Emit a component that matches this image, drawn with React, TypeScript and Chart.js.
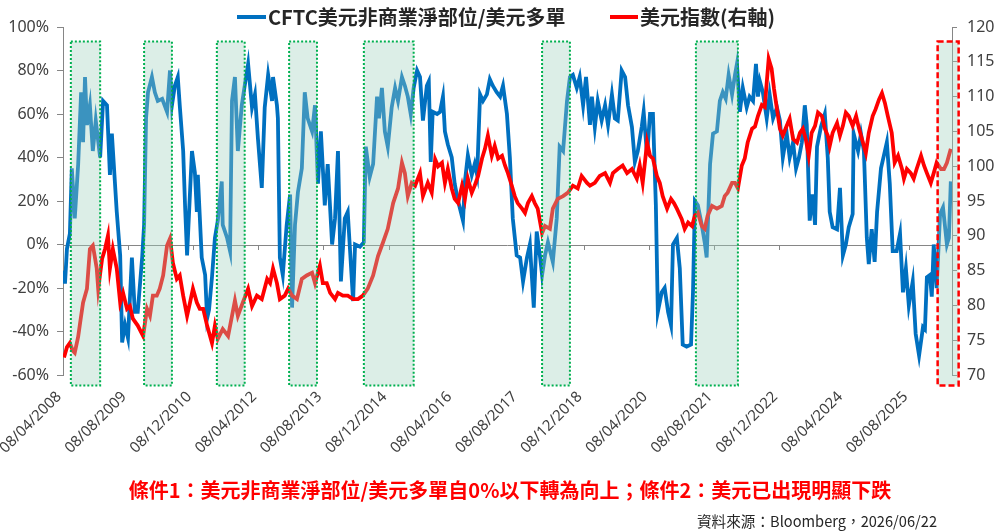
import React, { useEffect, useRef } from "react";
import { Chart, registerables } from "chart.js";

Chart.register(...registerables);

// ---------- data ----------
const xTickLabels = [
  "08/04/2008", "08/08/2009", "08/12/2010", "08/04/2012", "08/08/2013",
  "08/12/2014", "08/04/2016", "08/08/2017", "08/12/2018", "08/04/2020",
  "08/08/2021", "08/12/2022", "08/04/2024", "08/08/2025",
];
const lastDate = "22/06/2026";

const seriesNames = ["CFTC美元非商業淨部位/美元多單", "美元指數(右軸)"];

// [decimal year, % ]
const cftcPoints: [number, number][] = [
  [2008.29, -12], [2008.31, -18], [2008.35, -2], [2008.41, 5], [2008.45, 35], [2008.51, 12],
  [2008.58, 37], [2008.64, 70], [2008.68, 47], [2008.72, 77], [2008.76, 55], [2008.82, 64],
  [2008.88, 43], [2008.94, 57], [2009.03, 40], [2009.09, 66], [2009.17, 64], [2009.23, 32],
  [2009.27, 51], [2009.37, 15], [2009.44, -5], [2009.48, -45], [2009.54, -37], [2009.60, -43],
  [2009.68, -6], [2009.74, -31], [2009.80, -31], [2009.89, -6], [2009.93, 9], [2009.97, 58],
  [2010.01, 70], [2010.09, 77], [2010.15, 70], [2010.21, 66], [2010.30, 67], [2010.40, 61],
  [2010.46, 80], [2010.50, 64], [2010.56, 73], [2010.62, 77], [2010.66, 64], [2010.73, 43],
  [2010.77, 17], [2010.81, -5], [2010.87, 24], [2010.91, 43], [2010.97, 33], [2011.01, 15],
  [2011.03, 32], [2011.11, -6], [2011.18, -14], [2011.22, -34], [2011.26, -30], [2011.32, -15],
  [2011.38, 3], [2011.44, 11], [2011.52, 29], [2011.54, 9], [2011.63, 3], [2011.69, -3],
  [2011.73, 66], [2011.79, 77], [2011.85, 43], [2011.93, 64], [2011.99, 73], [2012.06, 83],
  [2012.14, 63], [2012.20, 69], [2012.26, 49], [2012.34, 26], [2012.40, 63], [2012.47, 78],
  [2012.55, 66], [2012.57, 77], [2012.65, 64], [2012.67, 58], [2012.71, -6], [2012.77, -14],
  [2012.85, 9], [2012.92, 23], [2012.96, -29], [2013.02, 9], [2013.08, 24], [2013.16, 35],
  [2013.22, 70], [2013.28, 58], [2013.37, 52], [2013.43, 64], [2013.49, 28], [2013.55, 52],
  [2013.63, 18], [2013.69, 37], [2013.78, 0], [2013.84, 12], [2013.90, 43], [2013.96, -17],
  [2014.04, 12], [2014.10, 15], [2014.14, 0], [2014.21, -26], [2014.25, 0], [2014.35, -1],
  [2014.43, 1], [2014.47, 45], [2014.55, 31], [2014.62, 37], [2014.70, 68], [2014.74, 58],
  [2014.80, 72], [2014.86, 52], [2014.92, 45], [2015.00, 63], [2015.07, 72], [2015.13, 66],
  [2015.21, 77], [2015.27, 73], [2015.33, 68], [2015.39, 60], [2015.45, 72], [2015.52, 80],
  [2015.58, 77], [2015.64, 57], [2015.72, 73], [2015.76, 75], [2015.80, 38], [2015.84, 61],
  [2015.93, 60], [2015.99, 61], [2016.05, 68], [2016.09, 52], [2016.15, 46], [2016.23, 40],
  [2016.29, 28], [2016.36, 20], [2016.46, 11], [2016.50, 29], [2016.56, 41], [2016.64, 32],
  [2016.70, 37], [2016.75, 32], [2016.81, 69], [2016.87, 66], [2016.95, 69], [2017.01, 76],
  [2017.07, 73], [2017.15, 70], [2017.22, 68], [2017.28, 73], [2017.36, 60], [2017.42, 40],
  [2017.48, 12], [2017.56, -5], [2017.63, -6], [2017.69, -17], [2017.77, -6], [2017.83, 0],
  [2017.91, -29], [2017.97, 6], [2018.04, -6], [2018.08, -14], [2018.14, -5], [2018.20, 1],
  [2018.30, -8], [2018.38, 12], [2018.44, 45], [2018.51, 43], [2018.59, 66], [2018.65, 77],
  [2018.71, 78], [2018.79, 72], [2018.85, 77], [2018.92, 64], [2018.98, 77], [2019.06, 55],
  [2019.10, 68], [2019.16, 54], [2019.22, 66], [2019.30, 57], [2019.37, 64], [2019.43, 55],
  [2019.51, 69], [2019.57, 58], [2019.63, 57], [2019.71, 80], [2019.78, 77], [2019.84, 64],
  [2019.92, 54], [2019.98, 38], [2020.04, 43], [2020.12, 54], [2020.16, 61], [2020.23, 41],
  [2020.29, 60], [2020.35, 60], [2020.41, 18], [2020.45, -31], [2020.53, -22], [2020.59, -20],
  [2020.66, -31], [2020.72, -37], [2020.76, 0], [2020.84, 3], [2020.90, -11], [2020.96, -46],
  [2021.04, -47], [2021.13, -46], [2021.17, -22], [2021.21, 20], [2021.27, 18], [2021.35, 9],
  [2021.41, 1], [2021.45, -6], [2021.52, 37], [2021.58, 51], [2021.66, 52], [2021.72, 66],
  [2021.78, 70], [2021.84, 67], [2021.90, 78], [2021.97, 69], [2022.03, 78], [2022.07, 83],
  [2022.13, 61], [2022.19, 72], [2022.27, 63], [2022.33, 68], [2022.40, 66], [2022.46, 83],
  [2022.50, 68], [2022.54, 75], [2022.60, 70], [2022.68, 58], [2022.74, 69], [2022.81, 58],
  [2022.89, 63], [2022.95, 57], [2023.01, 40], [2023.09, 51], [2023.15, 40], [2023.22, 47],
  [2023.28, 35], [2023.34, 40], [2023.40, 47], [2023.46, 64], [2023.50, 55], [2023.56, 11],
  [2023.62, 23], [2023.67, 9], [2023.71, 45], [2023.79, 54], [2023.87, 60], [2023.93, 40],
  [2023.97, 15], [2024.03, 8], [2024.12, 7], [2024.18, 26], [2024.24, -5], [2024.30, 0],
  [2024.36, 8], [2024.44, 14], [2024.46, 51], [2024.55, 43], [2024.61, 51], [2024.67, 43],
  [2024.73, 3], [2024.77, -9], [2024.83, 7], [2024.89, -8], [2024.94, 15], [2025.02, 35],
  [2025.08, 41], [2025.14, 47], [2025.20, 28], [2025.26, -3], [2025.34, -3], [2025.41, 5],
  [2025.47, -22], [2025.53, -11], [2025.59, -28], [2025.67, -17], [2025.73, -41], [2025.80, -51],
  [2025.88, -38], [2025.92, -39], [2025.96, -15], [2026.02, -14], [2026.06, -24], [2026.10, 0],
  [2026.16, -20], [2026.23, 14], [2026.29, 17], [2026.37, 0], [2026.41, 3], [2026.45, 29],
];

// [decimal year, index]
const dxyPoints: [number, number][] = [
  [2008.29, 72.5], [2008.35, 74], [2008.41, 74.6], [2008.47, 73.5], [2008.51, 73.2], [2008.58, 75.5],
  [2008.62, 77.5], [2008.68, 80.4], [2008.76, 82.4], [2008.82, 88.1], [2008.88, 88.6], [2008.92, 87],
  [2008.96, 85.3], [2008.99, 82.4], [2009.07, 86.7], [2009.13, 88.1], [2009.19, 90], [2009.23, 85.3],
  [2009.29, 88.1], [2009.37, 85.3], [2009.44, 80.4], [2009.50, 81.8], [2009.58, 79.5], [2009.64, 79.9],
  [2009.70, 78.1], [2009.80, 77.1], [2009.91, 75.6], [2009.99, 79.5], [2010.05, 78.5], [2010.11, 81.4],
  [2010.19, 81.4], [2010.25, 82.4], [2010.32, 84.3], [2010.40, 88.6], [2010.46, 89.6], [2010.52, 86.1],
  [2010.60, 83.8], [2010.66, 84.3], [2010.73, 81.4], [2010.81, 78.5], [2010.87, 80.4], [2010.93, 82.4],
  [2011.01, 80.4], [2011.07, 79.5], [2011.14, 79.5], [2011.22, 77.1], [2011.32, 74.6], [2011.38, 77.1],
  [2011.44, 75.2], [2011.54, 76.6], [2011.65, 75.6], [2011.73, 78.5], [2011.79, 80.7], [2011.85, 78.5],
  [2011.95, 80.4], [2012.06, 82.4], [2012.14, 79.9], [2012.24, 81.4], [2012.34, 80.9], [2012.45, 83.8],
  [2012.51, 83.2], [2012.57, 85.3], [2012.65, 83.2], [2012.71, 80.9], [2012.81, 81.4], [2012.88, 82.4],
  [2012.96, 81.4], [2013.06, 80.9], [2013.16, 83.8], [2013.26, 84.3], [2013.37, 84.7], [2013.43, 83.2],
  [2013.53, 85.7], [2013.59, 83.2], [2013.67, 83.2], [2013.74, 81.8], [2013.84, 80.9], [2013.90, 81.8],
  [2014.00, 81.4], [2014.10, 81.4], [2014.21, 80.9], [2014.31, 80.9], [2014.41, 81.4], [2014.51, 82.4],
  [2014.62, 84.3], [2014.72, 87.1], [2014.82, 89], [2014.92, 91], [2015.03, 94.7], [2015.13, 96.8],
  [2015.21, 100.5], [2015.27, 99], [2015.33, 95.7], [2015.41, 97.6], [2015.48, 97.2], [2015.58, 99],
  [2015.64, 95.7], [2015.74, 97.6], [2015.82, 96.2], [2015.89, 101], [2015.95, 100], [2016.03, 100.5],
  [2016.09, 97.6], [2016.15, 99.6], [2016.23, 96.8], [2016.29, 95.3], [2016.36, 94.7], [2016.44, 97.2],
  [2016.50, 95.3], [2016.56, 98.2], [2016.64, 96.2], [2016.70, 97.2], [2016.77, 98.6], [2016.85, 101.1],
  [2016.91, 102.5], [2016.97, 104.4], [2017.05, 101.5], [2017.11, 102.9], [2017.18, 101.1], [2017.26, 101.5],
  [2017.32, 100.1], [2017.38, 99], [2017.46, 97.2], [2017.52, 95.7], [2017.58, 94.7], [2017.67, 93.9],
  [2017.73, 93.3], [2017.79, 94.7], [2017.87, 95.7], [2017.93, 94.7], [2017.99, 93.9], [2018.08, 90.4],
  [2018.14, 91.4], [2018.24, 91], [2018.30, 93.9], [2018.40, 95.3], [2018.51, 95.7], [2018.61, 96.2],
  [2018.71, 97.2], [2018.81, 96.8], [2018.89, 98.6], [2019.00, 97.6], [2019.06, 97.2], [2019.16, 97.6],
  [2019.26, 98.6], [2019.37, 99], [2019.47, 97.6], [2019.53, 99], [2019.63, 99.6], [2019.73, 100.1],
  [2019.82, 99], [2019.92, 99.6], [2020.02, 98.2], [2020.08, 100.1], [2020.14, 97.6], [2020.23, 103.4],
  [2020.29, 101.5], [2020.35, 101.1], [2020.43, 98.6], [2020.49, 97.6], [2020.55, 95.7], [2020.64, 93.9],
  [2020.72, 95.3], [2020.78, 94.7], [2020.84, 93.9], [2020.94, 92.4], [2021.00, 91], [2021.07, 91.9],
  [2021.15, 91.4], [2021.21, 92.9], [2021.27, 93.3], [2021.35, 91.4], [2021.41, 91], [2021.47, 92.9],
  [2021.56, 94.3], [2021.66, 93.9], [2021.76, 94.3], [2021.82, 95.7], [2021.88, 96.2], [2021.97, 97.6],
  [2022.03, 97.6], [2022.09, 96.8], [2022.17, 100.1], [2022.23, 101.1], [2022.29, 103.4], [2022.38, 105.4],
  [2022.44, 105.7], [2022.50, 107.2], [2022.58, 108.8], [2022.64, 108.5], [2022.68, 112], [2022.72, 115.4],
  [2022.78, 114], [2022.83, 111.1], [2022.89, 108.2], [2022.95, 105.4], [2023.01, 104.4], [2023.09, 105.8],
  [2023.15, 106.8], [2023.22, 103.9], [2023.30, 103.4], [2023.36, 104.8], [2023.42, 105.4], [2023.48, 103.9],
  [2023.54, 101.5], [2023.60, 104.8], [2023.67, 105.8], [2023.73, 107.7], [2023.81, 107.2], [2023.87, 105.4],
  [2023.93, 104.4], [2023.97, 102.9], [2024.03, 104.8], [2024.12, 106.2], [2024.18, 104.4], [2024.24, 105.8],
  [2024.30, 107.7], [2024.36, 107.2], [2024.44, 105.8], [2024.51, 107.2], [2024.57, 105.4], [2024.65, 103.4],
  [2024.71, 101.9], [2024.77, 104.8], [2024.85, 107.2], [2024.91, 108.2], [2024.98, 109.6], [2025.04, 110.5],
  [2025.10, 109.1], [2025.16, 107.2], [2025.24, 104.8], [2025.30, 100.5], [2025.37, 101.5], [2025.45, 99.6],
  [2025.49, 98.2], [2025.55, 99.6], [2025.63, 99], [2025.69, 98.2], [2025.75, 99.6], [2025.84, 101.5],
  [2025.90, 100.1], [2025.96, 99], [2026.04, 97.6], [2026.10, 99], [2026.16, 100.5], [2026.25, 99.6],
  [2026.31, 99.6], [2026.37, 100.5], [2026.45, 102.5],
];

// highlighted periods (decimal years)
const shadeStarts = [2008.43, 2009.93, 2011.42, 2012.90, 2014.43, 2018.08, 2021.23, 2026.18];
const shadeEnds = [2009.03, 2010.50, 2011.99, 2013.47, 2015.45, 2018.65, 2022.09, 2026.61];
const shadeKinds = ["green", "green", "green", "green", "green", "green", "green", "red"];
const shadeTop = 93.3; // left-axis %
const shadeBottom = -64.8;

const noteText = "條件1：美元非商業淨部位/美元多單自0%以下轉為向上；條件2：美元已出現明顯下跌";
const sourceText = "資料來源：Bloomberg，2026/06/22";

// ---------- helpers ----------
function parseDMY(s: string): number {
  const [d, m, y] = s.split("/").map(Number);
  return y + (m - 1) / 12 + (d - 1) / 365;
}
const xTickValues = xTickLabels.map(parseDMY);
const xMin = xTickValues[0];
const xMax = parseDMY(lastDate);

const BLUE = "#0070c0";
const RED = "#ff0000";
const AXIS = "#868686";
const TEXT = "#404040";
const NUM_FONT = "'Noto Sans', 'DejaVu Sans', sans-serif";
const CJK_FONT = "'Noto Sans CJK TC', 'Noto Sans', sans-serif";

const decorPlugin = {
  id: "decor",
  beforeDatasetsDraw(chart: any) {
    const { ctx, chartArea, scales } = chart;
    const y0 = scales.y.getPixelForValue(0);
    ctx.save();
    ctx.strokeStyle = AXIS;
    ctx.lineWidth = 1;
    ctx.beginPath();
    ctx.moveTo(chartArea.left, Math.round(y0) + 0.5);
    ctx.lineTo(chartArea.right, Math.round(y0) + 0.5);
    xTickValues.forEach((v) => {
      const px = Math.round(scales.x.getPixelForValue(v)) + 0.5;
      ctx.moveTo(px, Math.round(y0));
      ctx.lineTo(px, Math.round(y0) + 5);
    });
    ctx.stroke();
    ctx.restore();
  },
  afterDatasetsDraw(chart: any) {
    const { ctx, scales } = chart;
    const top = scales.y.getPixelForValue(shadeTop);
    const bottom = scales.y.getPixelForValue(shadeBottom);
    ctx.save();
    shadeStarts.forEach((s, i) => {
      const x1 = scales.x.getPixelForValue(s);
      const x2 = scales.x.getPixelForValue(shadeEnds[i]);
      ctx.fillStyle = "rgba(160, 210, 190, 0.37)";
      ctx.fillRect(x1, top, x2 - x1, bottom - top);
      if (shadeKinds[i] === "red") {
        ctx.strokeStyle = "#ff0000";
        ctx.lineWidth = 2.5;
        ctx.setLineDash([6, 3]);
      } else {
        ctx.strokeStyle = "#00b050";
        ctx.lineWidth = 2;
        ctx.setLineDash([2, 2]);
      }
      ctx.strokeRect(x1, top, x2 - x1, bottom - top);
    });
    ctx.restore();
  },
  afterDraw(chart: any) {
    const { ctx } = chart;
    ctx.save();
    // legend
    ctx.textBaseline = "middle";
    ctx.textAlign = "left";
    ctx.font = `bold 20px ${CJK_FONT}`;
    ctx.lineWidth = 4;
    ctx.strokeStyle = BLUE;
    ctx.beginPath();
    ctx.moveTo(237, 17);
    ctx.lineTo(266, 17);
    ctx.stroke();
    ctx.fillStyle = "#262626";
    ctx.fillText(seriesNames[0], 268, 17, 302);
    ctx.strokeStyle = RED;
    ctx.beginPath();
    ctx.moveTo(610, 17);
    ctx.lineTo(638, 17);
    ctx.stroke();
    ctx.fillText(seriesNames[1], 640, 17, 137);
    // note
    ctx.fillStyle = "#ff0000";
    ctx.textAlign = "center";
    ctx.font = `bold 20px ${CJK_FONT}`;
    ctx.fillText(noteText, 510, 490, 765);
    // source
    ctx.fillStyle = "#262626";
    ctx.textAlign = "right";
    ctx.font = `15px ${CJK_FONT}`;
    ctx.fillText(sourceText, 937, 521, 240);
    ctx.restore();
  },
};

export default function App() {
  const ref = useRef<HTMLCanvasElement | null>(null);
  useEffect(() => {
    document.body.style.margin = "0";
    const canvas = ref.current;
    if (!canvas) return;
    const chart = new Chart(canvas, {
      type: "line",
      data: {
        datasets: [
          {
            label: seriesNames[1],
            data: dxyPoints.map(([x, y]) => ({ x, y })),
            yAxisID: "y1",
            borderColor: RED,
            borderWidth: 3.8,
            pointRadius: 0,
            tension: 0,
            order: 0,
          },
          {
            label: seriesNames[0],
            data: cftcPoints.map(([x, y]) => ({ x, y })),
            yAxisID: "y",
            borderColor: BLUE,
            borderWidth: 3.8,
            pointRadius: 0,
            tension: 0,
            order: 1,
          },
        ],
      },
      options: {
        responsive: false,
        animation: false,
        devicePixelRatio: 1,
        layout: { padding: { top: 27, left: 0, right: 0, bottom: 0 } },
        plugins: { legend: { display: false }, tooltip: { enabled: false } },
        scales: {
          x: {
            type: "linear",
            min: xMin,
            max: xMax,
            afterBuildTicks: (scale: any) => {
              scale.ticks = xTickValues.map((v) => ({ value: v }));
            },
            afterFit: (scale: any) => {
              scale.height = 157;
              scale.paddingLeft = 0;
              scale.paddingRight = 0;
            },
            grid: { display: false, drawTicks: false },
            border: { display: false },
            ticks: {
              autoSkip: false,
              maxRotation: 45,
              minRotation: 45,
              padding: 13,
              labelOffset: -4,
              color: TEXT,
              font: { family: NUM_FONT, size: 15 },
              callback: (_v: any, i: number) => xTickLabels[i],
            },
          },
          y: {
            position: "left",
            min: -60,
            max: 100,
            afterFit: (scale: any) => {
              scale.width = 63;
            },
            grid: { drawOnChartArea: false, tickLength: 6, tickColor: AXIS },
            border: { display: true, color: AXIS },
            ticks: {
              stepSize: 20,
              padding: 8,
              color: TEXT,
              font: { family: NUM_FONT, size: 16 },
              callback: (v: any) => `${v}%`,
            },
          },
          y1: {
            position: "right",
            min: 70,
            max: 120,
            afterFit: (scale: any) => {
              scale.width = 47;
            },
            grid: { drawOnChartArea: false, tickLength: 5, tickColor: AXIS },
            border: { display: true, color: AXIS },
            ticks: {
              stepSize: 5,
              padding: 10,
              color: TEXT,
              font: { family: NUM_FONT, size: 16 },
            },
          },
        },
      },
      plugins: [decorPlugin],
    } as any);
    return () => chart.destroy();
  }, []);
  return (
    <div style={{ position: "fixed", left: 0, top: 0, width: 999, height: 532, background: "#fff" }}>
      <canvas ref={ref} width={999} height={532} style={{ width: 999, height: 532, display: "block" }} />
    </div>
  );
}
